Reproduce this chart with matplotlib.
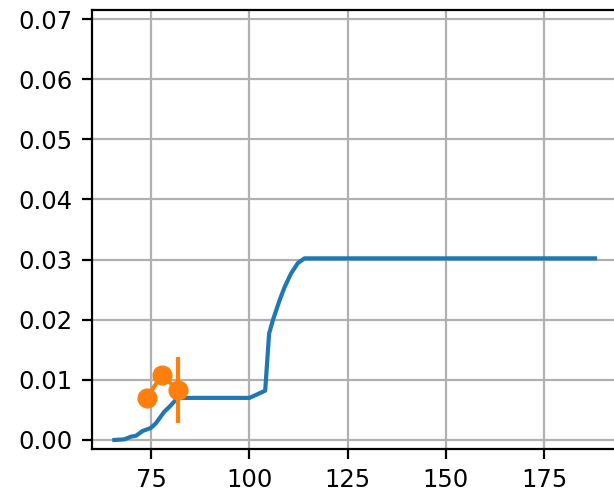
import matplotlib
matplotlib.use("Agg")
import matplotlib.pyplot as plt
import numpy as np

# blue step-like cumulative curve
x_line = [65.6, 68.1, 69.8, 71.1, 72.8, 74.9, 76.2, 78.3, 79.6, 81.7,
          100.0, 104.0, 105.0, 106.0, 107.7, 109.0, 110.6, 112.3, 114.0, 188.0]
y_line = [0.0000, 0.0001, 0.00055, 0.0007, 0.0015, 0.0020, 0.0028, 0.0047, 0.0055, 0.0070,
          0.0070, 0.0082, 0.0177, 0.0200, 0.0233, 0.0255, 0.0277, 0.0294, 0.0302, 0.0302]

# orange points with error bar
x_pts = [73.8, 77.7, 81.9]
y_pts = [0.0070, 0.0108, 0.0083]
y_err = [0.0, 0.0, 0.0055]

fig = plt.figure(figsize=(6.14, 4.94), dpi=100)
ax = fig.add_axes([92/614, 45/494, (619-92)/614, (449-10)/494])

ax.plot(x_line, y_line, color="C0", linewidth=3)
ax.errorbar(x_pts, y_pts, yerr=y_err, fmt="-o", color="C1",
            linewidth=3, elinewidth=3, markersize=13.5)

ax.set_xlim(59.9, 194.1)
ax.set_ylim(-0.0015, 0.0715)
ax.set_xticks([75, 100, 125, 150, 175])
ax.set_yticks(np.arange(0, 0.071, 0.01))
ax.yaxis.set_major_formatter(matplotlib.ticker.FormatStrFormatter("%.2f"))
ax.tick_params(labelsize=17.5, length=7, width=1.6, pad=7)
for s in ax.spines.values():
    s.set_linewidth(1.6)
ax.grid(True, linewidth=1.6, color="#b0b0b0")

fig.savefig("out.png", dpi=100)
